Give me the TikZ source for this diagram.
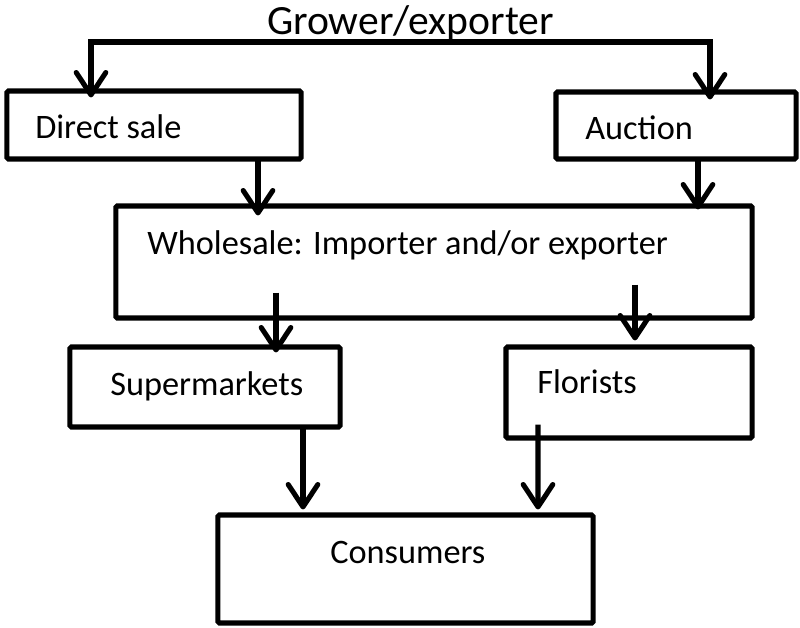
\documentclass[tikz,border=0pt]{standalone}
\usepackage{fontspec}
\setmainfont{Carlito}
\usetikzlibrary{arrows.meta,calc}
\tikzset{
  box/.style={draw,line width=3.6pt,rounded corners=1pt,inner sep=0pt},
  lbl/.style={anchor=base west,inner sep=0pt,font=\fontsize{24.4}{29}\selectfont},
  arr/.style={line width=3.6pt,-{Straight Barb[length=0.56cm,width=0.74cm,round]}}
}
\begin{document}
\begin{tikzpicture}[x=0.025cm,y=-0.025cm]
\useasboundingbox (0,0) rectangle (800,628);
% boxes
\node[box,minimum width=7.35cm,minimum height=1.7cm] (ds) at (154,125) {};
\node[box,minimum width=6cm,minimum height=1.675cm] (au) at (676,125.5) {};
\node[box,minimum width=15.9cm,minimum height=2.8cm] (ws) at (434,262) {};
\node[box,minimum width=6.75cm,minimum height=2cm] (sm) at (205,387) {};
\node[box,minimum width=6.15cm,minimum height=2.275cm] (fl) at (629,392.5) {};
\node[box,minimum width=9.375cm,minimum height=2.7cm] (cs) at (405.5,569) {};
% texts
\node[anchor=base,inner sep=0pt,font=\fontsize{29.6}{35}\selectfont] (grower) at (410.5,35) {Grower/exporter};
\node[lbl] (dsl) at (35,139) {Direct sale};
\node[lbl] (aul) at (585,140) {Auction};
\node[lbl] (wsl) at (147,255) {Wholesale: Importer and/or exporter};
\node[lbl] (sml) at (110,395) {Supermarkets};
\node[lbl] (fll) at (537,393) {Florists};
\node[lbl] (csl) at (330,563) {Consumers};
% arrows
\coordinate (split) at (400,42);
\draw[arr] (split) -| ($(ds.north)+(-63,9)$);
\draw[arr] (split) -| ($(au.north)+(34,10)$);
\draw[arr] ($(ds.south)+(104,-2)$) -- ($(ws.north)+(-176,12)$);
\draw[arr] ($(au.south)+(22,-2)$) -- ($(ws.north)+(264,6)$);
\draw[arr] ($(ws.south)+(-158,-28)$) -- ($(sm.north)+(71,8)$);
\draw[arr] ($(ws.south)+(201,-36)$) -- ($(fl.north)+(6,-4)$);
\draw[arr] ($(sm.south)+(98,-4)$) -- ($(cs.north)+(-102.5,-3)$);
\draw[arr] ($(fl.south)+(-91,-16)$) -- ($(cs.north)+(132.5,-3)$);
\end{tikzpicture}
\end{document}
